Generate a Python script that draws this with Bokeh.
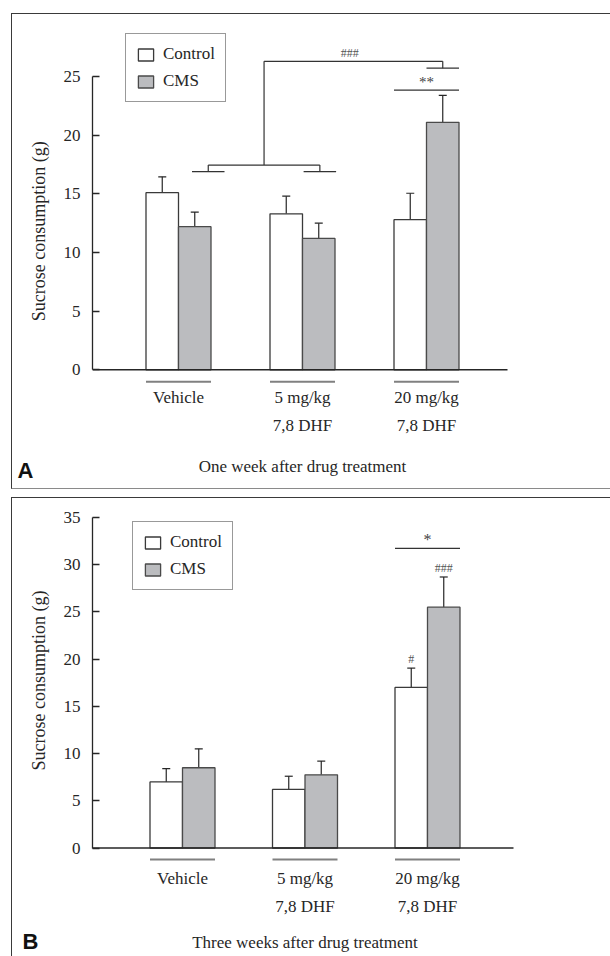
from bokeh.plotting import figure
from bokeh.models import (Range1d, LinearAxis, FixedTicker, Whisker, TeeHead,
                          ColumnDataSource, Legend, LegendItem)
from bokeh.layouts import column
from bokeh.core.properties import value
from bokeh.embed import file_html
from bokeh.resources import INLINE

# ---------------- data ----------------
group_line1 = ["Vehicle", "5 mg/kg", "20 mg/kg"]
group_line2 = ["", "7,8 DHF", "7,8 DHF"]
series = ["Control", "CMS"]

a_control = [15.1, 13.3, 12.8]
a_control_err = [1.35, 1.5, 2.25]
a_cms = [12.2, 11.2, 21.1]
a_cms_err = [1.25, 1.3, 2.3]

b_control = [7.0, 6.2, 17.0]
b_control_err = [1.4, 1.4, 2.05]
b_cms = [8.5, 7.75, 25.5]
b_cms_err = [2.0, 1.45, 3.2]

a_ticks = [0, 5, 10, 15, 20, 25]
b_ticks = [0, 5, 10, 15, 20, 25, 30, 35]

a_title = "One week after drug treatment"
b_title = "Three weeks after drug treatment"
y_label = "Sucrose consumption (g)"

SERIF = "Liberation Serif"
INK = "#262626"
CMS_FILL = "#bbbcbf"
WIDTH = 606      # runs a few px past the window so the panels look cut at the right
LEFT = 80
NBSP = "\u00a0"


def make_panel(letter, title, control, control_err, cms, cms_err, ticks,
               height, zero_px, ppu, c0_px, ppg, base_end_px, offs,
               legend_xy, letter_px, letter_standoff, label_pad):
    n = len(control)
    x_start = (LEFT - c0_px) / ppg
    x_end = (WIDTH - c0_px) / ppg
    y_end = zero_px / ppu
    y_start = -(height - zero_px) / ppu

    p = figure(width=WIDTH, height=height,
               x_range=Range1d(x_start, x_end), y_range=Range1d(y_start, y_end),
               x_axis_type=None, y_axis_type=None,
               output_backend="svg", toolbar_location=None,
               min_border_left=LEFT, min_border_right=0,
               min_border_top=0, min_border_bottom=0,
               outline_line_color=None, background_fill_color="white",
               border_fill_color="white")

    # the axis title is centred on the whole panel; leading no-break spaces
    # lift it to the middle of the 0..max span as in the original
    yaxis = LinearAxis(ticker=FixedTicker(ticks=ticks), bounds=(ticks[0], ticks[-1]),
                       major_tick_in=7, major_tick_out=0,
                       minor_tick_in=0, minor_tick_out=0,
                       minor_tick_line_color=None,
                       axis_line_color=INK, axis_line_width=1.3,
                       major_tick_line_color=INK, major_tick_line_width=1.3,
                       major_label_text_font=SERIF, major_label_text_font_size="17px",
                       major_label_text_color=INK, major_label_standoff=12,
                       axis_label=NBSP * label_pad + y_label, axis_label_text_font=SERIF,
                       axis_label_text_font_size="18px", axis_label_text_font_style="normal",
                       axis_label_text_color=INK, axis_label_standoff=12)
    p.add_layout(yaxis, "left")

    # panel letter, carried by an outer axis with one labelled tick
    letter_y = round(-(letter_px - zero_px) / ppu, 3)
    laxis = LinearAxis(ticker=FixedTicker(ticks=[letter_y]),
                       major_label_overrides={letter_y: letter},
                       axis_line_color=None, major_tick_line_color=None,
                       minor_tick_line_color=None,
                       major_tick_in=0, major_tick_out=0,
                       minor_tick_in=0, minor_tick_out=0,
                       major_label_text_font="Liberation Sans",
                       major_label_text_font_style="bold",
                       major_label_text_font_size="22px",
                       major_label_text_color="#111111",
                       major_label_standoff=letter_standoff)
    p.add_layout(laxis, "left")

    bw = 32.5 / ppg
    idx = list(range(n))
    src_c = ColumnDataSource(dict(x=[i - bw / 2 for i in idx], top=control,
                                  upper=[v + e for v, e in zip(control, control_err)]))
    src_m = ColumnDataSource(dict(x=[i + bw / 2 for i in idx], top=cms,
                                  upper=[v + e for v, e in zip(cms, cms_err)]))

    for src in (src_c, src_m):
        w = Whisker(source=src, base="x", upper="upper", lower="top", dimension="height",
                    line_color=INK, line_width=1.2, lower_head=None,
                    upper_head=TeeHead(size=8, line_color=INK, line_width=1.2))
        p.add_layout(w)

    r_c = p.vbar(x="x", top="top", width=bw, bottom=0, source=src_c,
                 fill_color="white", line_color="#3a3a3a", line_width=1.3)
    r_m = p.vbar(x="x", top="top", width=bw, bottom=0, source=src_m,
                 fill_color=CMS_FILL, line_color="#4a4a4a", line_width=1.3)

    # baseline (x axis line)
    base_end = (base_end_px - c0_px) / ppg
    p.segment(x0=[x_start], y0=[0], x1=[base_end], y1=[0], line_color=INK, line_width=1.5)

    # group underlines and labels
    under, lab1, lab2, ttl = [o / ppu for o in offs]
    p.segment(x0=[i - bw for i in idx], y0=[-under] * n, x1=[i + bw for i in idx],
              y1=[-under] * n, line_color="#808080", line_width=2)
    p.text(x=idx, y=[-lab1] * n, text=group_line1, text_font=value(SERIF),
           text_font_size="17px", text_align="center", text_baseline="middle",
           text_color=INK)
    p.text(x=idx, y=[-lab2] * n, text=group_line2, text_font=value(SERIF),
           text_font_size="17px", text_align="center", text_baseline="middle",
           text_color=INK)
    p.text(x=[(n - 1) / 2], y=[-ttl], text=[title], text_font=value(SERIF),
           text_font_size="17px", text_align="center", text_baseline="middle",
           text_color=INK)

    legend = Legend(items=[LegendItem(label=series[0], renderers=[r_c]),
                           LegendItem(label=series[1], renderers=[r_m])],
                    location=legend_xy, orientation="vertical",
                    border_line_color="#333333", border_line_width=1.2,
                    background_fill_color="white", background_fill_alpha=1,
                    label_text_font=SERIF, label_text_font_size="17px",
                    label_text_color=INK,
                    glyph_width=19, glyph_height=15, label_height=15,
                    label_standoff=8, spacing=7, padding=10, margin=0)
    p.add_layout(legend)
    return p, bw


pA, bwA = make_panel("A", a_title, a_control, a_control_err, a_cms, a_cms_err, a_ticks,
                     height=474, zero_px=355.3, ppu=11.73, c0_px=166, ppg=124,
                     base_end_px=495, offs=(12, 28, 56, 97),
                     legend_xy=(33, 386), letter_px=456, letter_standoff=-8,
                     label_pad=9)

# significance marks, panel A
low_anchor = [0.24, 1.14]
low_y, join_y, top_y, short_y, star_y = 16.9, 17.45, 26.3, 25.71, 23.84
cms2 = 2 + bwA / 2
mid = sum(low_anchor) / 2
pA.segment(x0=[a - bwA / 2 for a in low_anchor], y0=[low_y] * 2,
           x1=[a + bwA / 2 for a in low_anchor], y1=[low_y] * 2, line_color="#333", line_width=1.2)
pA.segment(x0=low_anchor, y0=[low_y] * 2, x1=low_anchor, y1=[join_y] * 2,
           line_color="#333", line_width=1.2)
pA.segment(x0=[low_anchor[0], mid, mid, cms2, cms2 - bwA / 2, 2 - bwA],
           y0=[join_y, join_y, top_y, top_y, short_y, star_y],
           x1=[low_anchor[1], mid, cms2, cms2, cms2 + bwA / 2, 2 + bwA],
           y1=[join_y, top_y, top_y, short_y, short_y, star_y],
           line_color="#333", line_width=1.2)
pA.text(x=[(mid + cms2) / 2 - 0.03], y=[27.05], text=["###"], text_font=value(SERIF),
        text_font_size="12px", text_align="center", text_baseline="middle", text_color="#555")
pA.text(x=[2], y=[24.5], text=["**"], text_font=value(SERIF),
        text_font_size="15px", text_align="center", text_baseline="middle", text_color="#444")

pB, bwB = make_panel("B", b_title, b_control, b_control_err, b_cms, b_cms_err, b_ticks,
                     height=472, zero_px=349.5, ppu=9.443, c0_px=170, ppg=122.5,
                     base_end_px=501, offs=(11.5, 30.5, 58.5, 94.5),
                     legend_xy=(40, 380), letter_px=443, letter_standoff=-13,
                     label_pad=24)

# significance marks, panel B
pB.segment(x0=[2 - bwB], y0=[31.72], x1=[2 + bwB], y1=[31.72], line_color="#333", line_width=1.2)
pB.text(x=[2], y=[32.7], text=["*"], text_font=value(SERIF),
        text_font_size="16px", text_align="center", text_baseline="middle", text_color="#444")
pB.text(x=[2 + bwB / 2, 2 - bwB / 2],
        y=[b_cms[2] + b_cms_err[2] + 0.9, b_control[2] + b_control_err[2] + 1.0],
        text=["###", "#"], text_font=value(SERIF),
        text_font_size="12px", text_align="center", text_baseline="middle", text_color="#555")

boxA = column(pA, margin=(13, 0, 0, 11),
              styles={"border-left": "1px solid #3a3a3a", "border-top": "1px solid #3a3a3a",
                      "border-bottom": "1px solid #8a8a8a"})
boxB = column(pB, margin=(8, 0, 0, 11),
              styles={"border-left": "1px solid #3a3a3a", "border-top": "1px solid #3a3a3a"})
layout = column(boxA, boxB, spacing=0)
open("out.html", "w").write(file_html(layout, INLINE))
